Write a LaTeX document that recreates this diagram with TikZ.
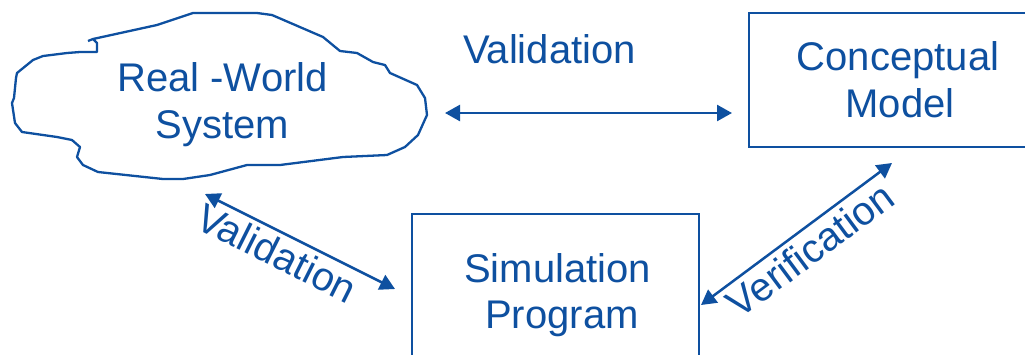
\documentclass[tikz,border=0pt]{standalone}
\usepackage{fontspec}
\setmainfont{Liberation Sans}
\usetikzlibrary{arrows.meta}
\definecolor{myblue}{RGB}{14,80,160}
\tikzset{
  lbl/.style={text=myblue, font=\fontsize{40}{46}\selectfont, inner sep=0pt},
  boxnode/.style={draw=myblue, line width=2pt, inner sep=0pt},
  arr/.style={draw=myblue, line width=2.5pt, {Triangle[length=15pt,width=16pt]}-{Triangle[length=15pt,width=16pt]}},
  cloudline/.style={draw=myblue, line width=2.3pt, line join=round},
}
\begin{document}
\begin{tikzpicture}[x=1pt,y=-1pt]
\fill[white] (0,0) rectangle (1025,354);
\useasboundingbox (0,0) rectangle (1025,354);
% cloud
\draw[cloudline] (88,41) -- (93,39) -- (157,25) -- (193,13) -- (257,13) -- (272,15) -- (323,37) -- (340,51)
  -- (357,53) -- (373,62) -- (385,65) -- (390,73) -- (417,85) -- (425,98) -- (427,115) -- (418,135)
  -- (405,147) -- (387,155) -- (343,157) -- (280,165) -- (247,165) -- (210,175) -- (183,179) -- (163,179)
  -- (98,172) -- (83,165) -- (77,157) -- (80,147) -- (72,140) -- (57,137) -- (22,132) -- (15,123)
  -- (12,103) -- (14,98) -- (16,78) -- (17,73) -- (33,60) -- (43,56) -- (67,53) -- (80,52) -- (97,52)
  -- (97,43) -- (93,39);
\node[lbl, anchor=base] (realA) at (222.5,91.7) {Real -World};
\node[lbl, anchor=base] (realB) at (222,138) {System};
% boxes
\node[boxnode, minimum width=300pt, minimum height=134pt, anchor=north west] (concept) at (748,12) {};
\node[lbl, anchor=base] (conA) at (898,70) {Conceptual};
\node[lbl, anchor=base] (conB) at (900,117) {Model};
\node[boxnode, minimum width=287pt, minimum height=170pt, anchor=north west] (sim) at (411,213) {};
\node[lbl, anchor=base] (simA) at (557.5,282) {Simulation};
\node[lbl, anchor=base] (simB) at (562,328) {Program};
% connectors
\coordinate (h1) at (445,113);
\coordinate (h2) at (732,113);
\draw[arr] (h1) -- (h2);
\node[lbl, anchor=base] (valtop) at (549.5,63) {Validation};
\coordinate (d1) at (205,194);
\coordinate (d2) at (395,289);
\draw[arr] (d1) -- (d2);
\node[lbl, rotate=-26.6] (valdiag) at (277,253) {Validation};
\coordinate (v1) at (701,305);
\coordinate (v2) at (892,163);
\draw[arr] (v1) -- (v2);
\node[lbl, rotate=36.6] (verif) at (810,250) {Verification};
\end{tikzpicture}
\end{document}
